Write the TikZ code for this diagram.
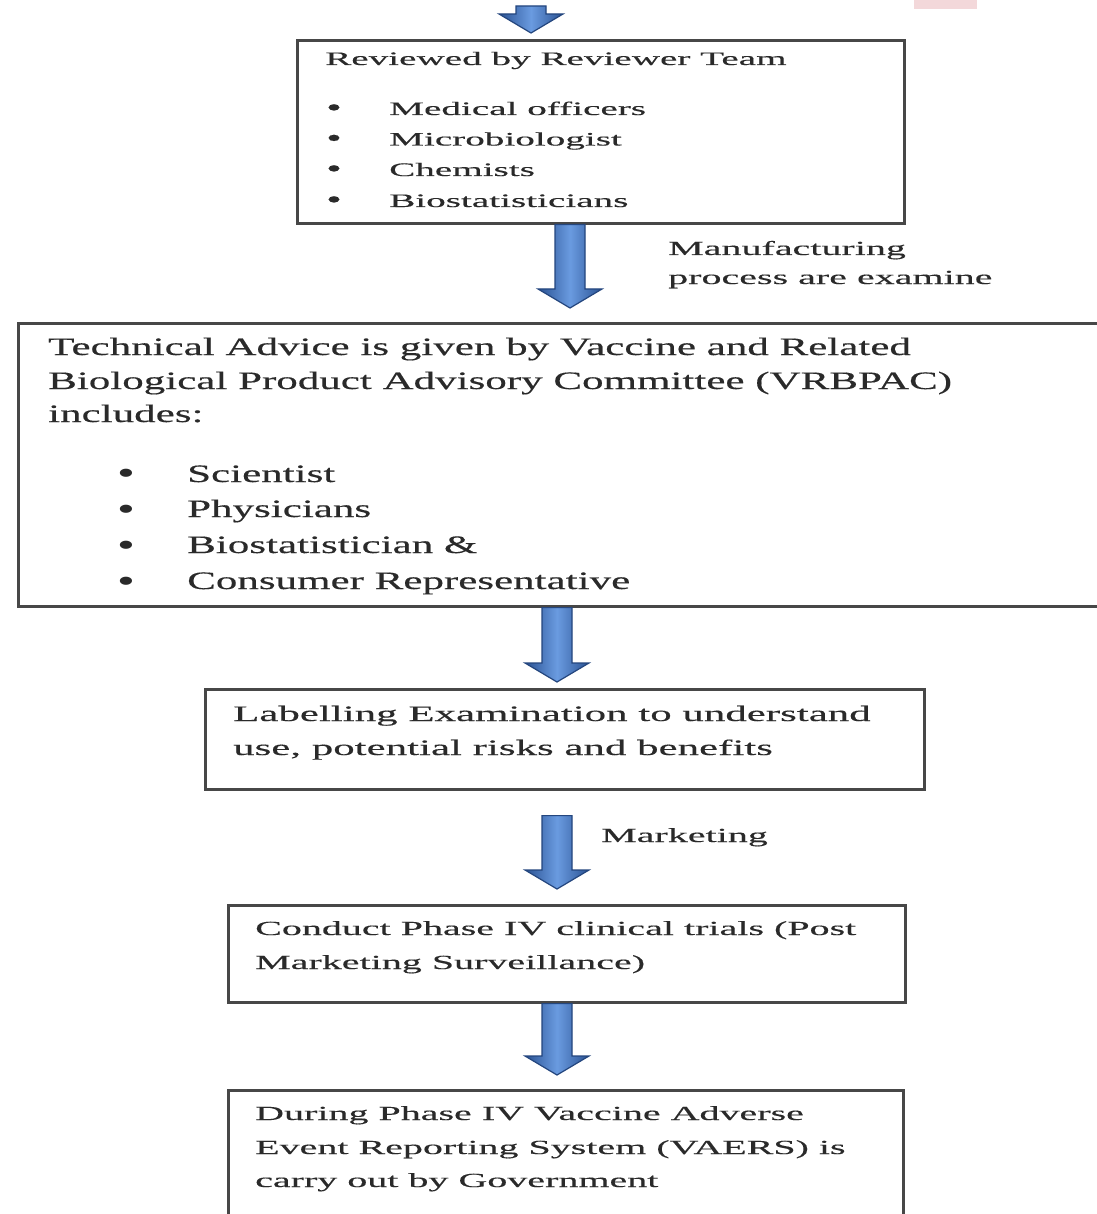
\documentclass[tikz,border=0pt]{standalone}
\usepackage{fontspec}
\setmainfont{Liberation Serif}
\newfontfamily\fA[FakeStretch=2.06,FakeBold=0.3]{Liberation Serif}
\newfontfamily\fB[FakeStretch=1.72,FakeBold=0.4]{Liberation Serif}
\newfontfamily\fC[FakeStretch=1.95,FakeBold=0.3]{Liberation Serif}
\newfontfamily\fD[FakeStretch=2.0,FakeBold=0.3]{Liberation Serif}
\newfontfamily\fBul[FakeStretch=1.5]{Liberation Serif}
\newfontfamily\fBulS[FakeStretch=1.7,FakeBold=0.6]{Liberation Serif}
\usetikzlibrary{calc}
\definecolor{txt}{HTML}{2A2A2A}
\definecolor{frame}{HTML}{474747}
\definecolor{arrdark}{HTML}{2A5293}
\definecolor{arrlight}{HTML}{6A9BE0}
\definecolor{arredge}{HTML}{24467E}
\definecolor{pinkish}{HTML}{F3D8DA}
\tikzset{
  box/.style={draw=frame, line width=2.6pt, rectangle, inner sep=0pt, anchor=north west},
  tA/.style={anchor=base west, inner sep=0pt, text=txt, font=\fA\fontsize{19}{23}\selectfont},
  tB/.style={anchor=base west, inner sep=0pt, text=txt, font=\fB\fontsize{25}{30}\selectfont},
  tC/.style={anchor=base west, inner sep=0pt, text=txt, font=\fC\fontsize{22}{26}\selectfont},
  tD/.style={anchor=base west, inner sep=0pt, text=txt, font=\fD\fontsize{20}{24}\selectfont},
  bul/.style={anchor=base, inner sep=0pt, text=txt, text height=14pt, text depth=0pt, font=\fBul\fontsize{34}{34}\selectfont},
  bulS/.style={anchor=base, inner sep=0pt, text=txt, text height=11pt, text depth=0pt, font=\fBulS\fontsize{26}{26}\selectfont},
  blockarr/.style={draw=arredge, line width=1.2pt, left color=arrdark, right color=arrdark, middle color=arrlight, line join=miter},
}
% #1 x coordinate, #2 start, #3 end, #4 start gap, #5 end gap
\newcommand\blockarrow[5]{%
  \path[blockarr] let \p1=(#1 |- #2), \p2=(#1 |- #3) in
    (\x1-15pt,\y1-#4pt) -- (\x1-15pt,\y2+#5pt+19pt) -- (\x1-32pt,\y2+#5pt+19pt)
    -- (\x1,\y2+#5pt) -- (\x1+32pt,\y2+#5pt+19pt) -- (\x1+15pt,\y2+#5pt+19pt)
    -- (\x1+15pt,\y1-#4pt) -- cycle;}
\begin{document}
\begin{tikzpicture}[x=1pt,y=-1pt]
\useasboundingbox (0,0) rectangle (1096,1214);
\fill[white] (0,0) rectangle (1096,1214);
\fill[pinkish] (914,0) rectangle (977,9);

% boxes
\node[box, minimum width=607, minimum height=183] (box1) at (296,39) {};
\node[box, minimum width=1110, minimum height=283] (box2) at (17,322) {};
\node[box, minimum width=719, minimum height=100] (box3) at (204,688) {};
\node[box, minimum width=677, minimum height=97] (box4) at (227,904) {};
\node[box, minimum width=675, minimum height=132] (box5) at (227,1089) {};

% arrow positions
\coordinate (top) at (531,6);
\coordinate (ax0) at (531,0);
\coordinate (ax1) at (570,0);
\coordinate (ax2) at (557,0);

\blockarrow{ax0}{top}{box1.north}{0}{6}
\blockarrow{ax1}{box1.south}{box2.north}{0}{14}
\blockarrow{ax2}{box2.south}{box3.north}{0}{6}
\blockarrow{ax2}{box3.south}{box4.north}{25}{15}
\blockarrow{ax2}{box4.south}{box5.north}{0}{14}

% box 1
\node[tA] (b1t) at (325,65) {Reviewed by Reviewer Team};
\node[bulS] (b1b1) at (334,116) {•};
\node[bulS] (b1b2) at (334,146.5) {•};
\node[bulS] (b1b3) at (334,177) {•};
\node[bulS] (b1b4) at (334,208) {•};
\node[tA] (b1i1) at (389,115) {Medical officers};
\node[tA] (b1i2) at (389,145.5) {Microbiologist};
\node[tA] (b1i3) at (389,176) {Chemists};
\node[tA] (b1i4) at (389,207) {Biostatisticians};

% labels
\node[tD] (l1a) at (668,255) {Manufacturing};
\node[tD] (l1b) at (668,284) {process are examine};

% box 2
\node[tB] (b2t1) at (48,355) {Technical Advice is given by Vaccine and Related};
\node[tB] (b2t2) at (48,389) {Biological Product Advisory Committee (VRBPAC)};
\node[tB] (b2t3) at (48,422) {includes:};
\node[bul] (b2b1) at (126,484) {•};
\node[bul] (b2b2) at (126,520) {•};
\node[bul] (b2b3) at (126,556) {•};
\node[bul] (b2b4) at (126,592) {•};
\node[tB] (b2i1) at (187,482) {Scientist};
\node[tB] (b2i2) at (187,517) {Physicians};
\node[tB] (b2i3) at (187,553) {Biostatistician \&};
\node[tB] (b2i4) at (187,589) {Consumer Representative};

% box 3
\node[tC] (b3t1) at (233,721) {Labelling Examination to understand};
\node[tC] (b3t2) at (233,755) {use, potential risks and benefits};

% label
\node[tD] (l2) at (601,842) {Marketing};

% box 4
\node[tD] (b4t1) at (255,935) {Conduct Phase IV clinical trials (Post};
\node[tD] (b4t2) at (255,969) {Marketing Surveillance)};

% box 5
\node[tD] (b5t1) at (255,1120) {During Phase IV Vaccine Adverse};
\node[tD] (b5t2) at (255,1154) {Event Reporting System (VAERS) is};
\node[tD] (b5t3) at (255,1187) {carry out by Government};
\end{tikzpicture}
\end{document}
